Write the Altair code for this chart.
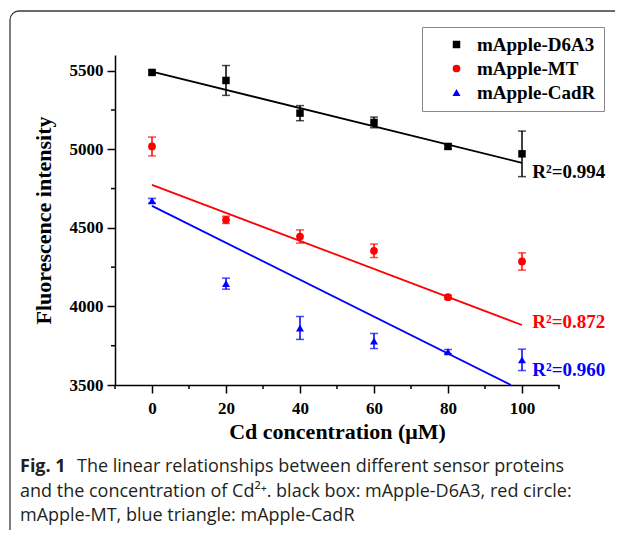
import altair as alt
import pandas as pd

# ---------------- data ----------------
SERIES = ["mApple-D6A3", "mApple-MT", "mApple-CadR"]
COLORS = ["#000000", "#ff0000", "#0000ff"]
SHAPES = ["square", "circle", "triangle-up"]
MARK_SIZES = [56, 64, 100]

CONC = [0, 20, 40, 60, 80, 100]
D6A3_MEAN = [5489, 5438, 5230, 5171, 5018, 4971]
D6A3_ERR = [12, 95, 48, 34, 15, 145]
MT_MEAN = [5018, 4551, 4445, 4354, 4059, 4286]
MT_ERR = [60, 23, 42, 43, 12, 55]
CADR_MEAN = [4672, 4145, 3863, 3780, 3712, 3660]
CADR_ERR = [15, 35, 73, 48, 14, 68]

# fitted lines: start / end points as drawn
FIT_X0 = [0, 0, 0]
FIT_Y0 = [5494, 4774, 4640]
FIT_X1 = [100, 100, 97]
FIT_Y1 = [4914, 3882, 3500]

R2_LABELS = ["R\u00b2=0.994", "R\u00b2=0.872", "R\u00b2=0.960"]
R2_X = [102.8, 102.8, 102.8]
R2_Y = [4818, 3863, 3557]

X_MAJOR = [0, 20, 40, 60, 80, 100]
X_MINOR = [-10, 10, 30, 50, 70, 90, 110]
Y_MAJOR = [3500, 4000, 4500, 5000, 5500]
Y_MINOR = [3750, 4250, 4750, 5250]

X_TITLE = "Cd concentration (\u03bcM)"
Y_TITLE = "Fluorescence intensity"

CAPTION_BOLD = "Fig. 1"
CAPTION_LINES = [
    "The linear relationships between different sensor proteins",
    "and the concentration of Cd\u00b2\u207a. black box: mApple-D6A3, red circle:",
    "mApple-MT, blue triangle: mApple-CadR",
]

# ---------------- tables ----------------
rows = []
for s, means, errs in zip(SERIES, [D6A3_MEAN, MT_MEAN, CADR_MEAN], [D6A3_ERR, MT_ERR, CADR_ERR]):
    for x, m, e in zip(CONC, means, errs):
        rows.append({"series": s, "conc": x, "mean": m, "lo": m - e, "hi": m + e})
pts = pd.DataFrame(rows)

fit_rows = []
for s, x0, y0, x1, y1 in zip(SERIES, FIT_X0, FIT_Y0, FIT_X1, FIT_Y1):
    fit_rows.append({"series": s, "conc": x0, "val": y0, "ord": 0})
    fit_rows.append({"series": s, "conc": x1, "val": y1, "ord": 1})
fit = pd.DataFrame(fit_rows)

r2 = pd.DataFrame({"series": SERIES, "conc": R2_X, "val": R2_Y, "label": R2_LABELS})

SERIF = "Liberation Serif"
SANS = "Open Sans, Noto Sans, DejaVu Sans"

W, H = 444, 330

xscale = alt.Scale(domain=[-10, 110], nice=False, zero=False)
yscale = alt.Scale(domain=[3500, 5600], nice=False, zero=False)
cscale = alt.Scale(domain=SERIES, range=COLORS)
sscale = alt.Scale(domain=SERIES, range=SHAPES)
zscale = alt.Scale(domain=SERIES, range=MARK_SIZES)

x_axis = alt.Axis(values=X_MAJOR, labelOverlap=False, title=X_TITLE, grid=False, tickSize=8,
                  labelPadding=7, titlePadding=5)
y_axis = alt.Axis(values=Y_MAJOR, format="d", labelOverlap=False, title=Y_TITLE, grid=False, tickSize=8,
                  labelPadding=4, titlePadding=14)

X = alt.X("conc:Q", scale=xscale, axis=x_axis)
Y = alt.Y("mean:Q", scale=yscale, axis=y_axis)
C_noleg = alt.Color("series:N", scale=cscale, legend=None)

base = alt.Chart(pts)

bars = base.mark_rule(strokeWidth=1.5).encode(
    x=X, y=alt.Y("lo:Q", scale=yscale), y2="hi:Q", color=C_noleg
)
cap_lo = base.mark_tick(orient="horizontal", size=8, thickness=1.5).encode(
    x=X, y=alt.Y("lo:Q", scale=yscale), color=C_noleg
)
cap_hi = base.mark_tick(orient="horizontal", size=8, thickness=1.5).encode(
    x=X, y=alt.Y("hi:Q", scale=yscale), color=C_noleg
)

lines = alt.Chart(fit).mark_line(strokeWidth=1.8).encode(
    x=alt.X("conc:Q", scale=xscale),
    y=alt.Y("val:Q", scale=yscale),
    color=C_noleg,
    detail="series:N",
    order="ord:O",
)

points = base.mark_point(filled=True, opacity=1).encode(
    x=X,
    y=Y,
    color=alt.Color("series:N", scale=cscale, legend=alt.Legend(title=None)),
    shape=alt.Shape("series:N", scale=sscale, legend=alt.Legend(title=None)),
    size=alt.Size("series:N", scale=zscale, legend=None),
)

r2_text = alt.Chart(r2).mark_text(
    align="left", baseline="alphabetic", font=SERIF, fontWeight="bold", fontSize=19
).encode(
    x=alt.X("conc:Q", scale=xscale),
    y=alt.Y("val:Q", scale=yscale),
    text="label:N",
    color=C_noleg,
)

# minor ticks
xminor = alt.Chart(pd.DataFrame({"v": X_MINOR})).mark_rule(color="black", strokeWidth=1.5).encode(
    x=alt.X("v:Q", scale=xscale), y=alt.value(H), y2=alt.value(H + 4)
)
yminor = alt.Chart(pd.DataFrame({"v": Y_MINOR})).mark_rule(color="black", strokeWidth=1.5).encode(
    y=alt.Y("v:Q", scale=yscale), x=alt.value(0), x2=alt.value(-4)
)

one = alt.Data(values=[{"k": 1}])

frame = alt.Chart(one).mark_rect(
    fillOpacity=0, stroke="#3a3a3a", strokeWidth=1.3, cornerRadius=9
).encode(
    x=alt.value(-105), x2=alt.value(560), y=alt.value(-44), y2=alt.value(520)
)

CAP_SIZE = 18
cap_bold = alt.Chart(one).mark_text(
    align="left", baseline="alphabetic", font=SANS, fontWeight="bold", fontSize=CAP_SIZE, color="#231f20"
).encode(x=alt.value(-95), y=alt.value(417), text=alt.value(CAPTION_BOLD))

cap_layers = []
for i, line in enumerate(CAPTION_LINES):
    cap_layers.append(
        alt.Chart(one).mark_text(
            align="left", baseline="alphabetic", font=SANS, fontSize=CAP_SIZE, color="#231f20"
        ).encode(
            x=alt.value(-38 if i == 0 else -95),
            y=alt.value(417 + 24.5 * i),
            text=alt.value(line),
        )
    )

chart = alt.layer(
    frame, xminor, yminor, lines, bars, cap_lo, cap_hi, points, r2_text, cap_bold, *cap_layers
).resolve_legend(
    color="independent", shape="independent", size="independent"
).properties(
    width=W,
    height=H,
    padding={"left": 107, "top": 47, "right": 56, "bottom": 145},
    autosize=alt.AutoSizeParams(type="none"),
).configure_view(
    stroke=None
).configure_axis(
    domainColor="black",
    domainWidth=1.5,
    tickColor="black",
    tickWidth=1.5,
    labelFont=SERIF,
    labelFontWeight="bold",
    labelFontSize=17,
    labelColor="black",
    titleFont=SERIF,
    titleFontWeight="bold",
    titleFontSize=22,
    titleColor="black",
).configure_legend(
    orient="none",
    legendX=307,
    legendY=-28,
    strokeColor="#888888",
    fillColor="white",
    padding=8,
    labelFont=SERIF,
    labelFontWeight="bold",
    labelFontSize=19,
    labelColor="black",
    symbolSize=64,
    symbolOffset=17,
    labelOffset=11,
    rowPadding=4,
)

chart.save("out.html", embed_options={"renderer": "svg", "actions": False})
